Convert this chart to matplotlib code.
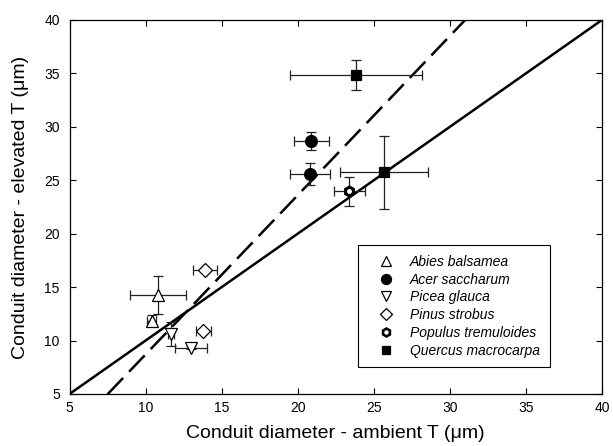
import matplotlib

matplotlib.use("Agg")
import matplotlib.pyplot as plt
import numpy as np
from matplotlib.lines import Line2D

plt.rcParams["font.family"] = ["Liberation Sans", "DejaVu Sans"]

species = ["Abies balsamea", "Acer saccharum", "Picea glauca",
           "Pinus strobus", "Populus tremuloides", "Quercus macrocarpa"]

# ambient x, elevated y, with errors (two points per species)
amb = {
    "Abies balsamea": [10.8, 10.4],
    "Acer saccharum": [20.9, 20.8],
    "Picea glauca": [11.65, 13.0],
    "Pinus strobus": [13.9, 13.8],
    "Populus tremuloides": [23.4],
    "Quercus macrocarpa": [23.85, 25.65],
}
amb_err = {
    "Abies balsamea": [1.85, 0.3],
    "Acer saccharum": [1.15, 1.3],
    "Picea glauca": [0.2, 1.05],
    "Pinus strobus": [0.8, 0.5],
    "Populus tremuloides": [1.0],
    "Quercus macrocarpa": [4.35, 2.9],
}
elev = {
    "Abies balsamea": [14.25, 11.85],
    "Acer saccharum": [28.65, 25.6],
    "Picea glauca": [10.6, 9.35],
    "Pinus strobus": [16.65, 10.85],
    "Populus tremuloides": [23.95],
    "Quercus macrocarpa": [34.85, 25.75],
}
elev_err = {
    "Abies balsamea": [1.8, 0.5],
    "Acer saccharum": [0.85, 1.05],
    "Picea glauca": [1.15, 0.15],
    "Pinus strobus": [0.0, 0.0],
    "Populus tremuloides": [1.4],
    "Quercus macrocarpa": [1.4, 3.4],
}

one_to_one = [5, 40]
fit_slope, fit_icpt = 1.49, -6.2
fit_x = [7.5, 31.0]

styles = {
    "Abies balsamea": dict(marker="^", mfc="white", ms=9),
    "Acer saccharum": dict(marker="o", mfc="black", ms=8.5),
    "Picea glauca": dict(marker="v", mfc="white", ms=9),
    "Pinus strobus": dict(marker="D", mfc="white", ms=7),
    "Populus tremuloides": dict(marker="h", mfc="black", ms=8),
    "Quercus macrocarpa": dict(marker="s", mfc="black", ms=7),
}


def main() -> None:
    fig = plt.figure(figsize=(6.13, 4.46), dpi=100)
    ax = fig.add_axes([0.1134, 0.1166, 0.8686, 0.8386])

    ax.plot(one_to_one, one_to_one, color="black", lw=1.8, zorder=2)
    fx = np.array(fit_x)
    ax.plot(fx, fit_slope * fx + fit_icpt, color="black", lw=1.8,
            dashes=(9, 3.5), zorder=2)

    for sp in species:
        st = styles[sp]
        ax.errorbar(amb[sp], elev[sp], xerr=amb_err[sp], yerr=elev_err[sp],
                    fmt="none", ecolor="#222222", elinewidth=0.9,
                    capsize=3.6, capthick=0.9, zorder=3)
        ax.plot(amb[sp], elev[sp], linestyle="none", marker=st["marker"],
                mfc=st["mfc"], mec="black", mew=0.9, ms=st["ms"], zorder=4)
        if sp == "Populus tremuloides":
            ax.plot(amb[sp], elev[sp], linestyle="none", marker="o",
                    mfc="white", mec="white", ms=2.5, zorder=5)

    ax.set_xlim(5, 40)
    ax.set_ylim(5, 40)
    ax.set_xticks(np.arange(5, 41, 5))
    ax.set_yticks(np.arange(5, 41, 5))
    ax.tick_params(direction="in", top=True, right=True, length=4,
                   width=0.8, labelsize=10)
    ax.tick_params(axis="y", pad=7)
    ax.tick_params(axis="x", pad=5)
    for s in ax.spines.values():
        s.set_linewidth(0.9)

    ax.set_xlabel("Conduit diameter - ambient T (\u03bcm)", fontsize=14,
                  labelpad=7)
    ax.set_ylabel("Conduit diameter - elevated T (\u03bcm)", fontsize=14,
                  labelpad=11)

    handles = []
    for sp in species:
        st = styles[sp]
        h = Line2D([], [], linestyle="none", marker=st["marker"],
                   mfc=st["mfc"], mec="black", mew=0.9, ms=st["ms"] * 0.85)
        if sp == "Populus tremuloides":
            dot = Line2D([], [], linestyle="none", marker="o", mfc="white",
                         mec="white", ms=2.2)
            h = (h, dot)
        handles.append(h)
    leg = ax.legend(handles, species, loc="upper left",
                    bbox_to_anchor=(0.542, 0.398), frameon=True,
                    fancybox=False, edgecolor="black", framealpha=1,
                    prop={"style": "italic", "size": 10},
                    handlelength=2.6, handletextpad=0.45, labelspacing=0.27,
                    borderpad=0.7, borderaxespad=0)
    leg.get_frame().set_linewidth(0.8)

    fig.savefig("out.png", dpi=100)
    plt.close(fig)


if __name__ == "__main__":
    main()
